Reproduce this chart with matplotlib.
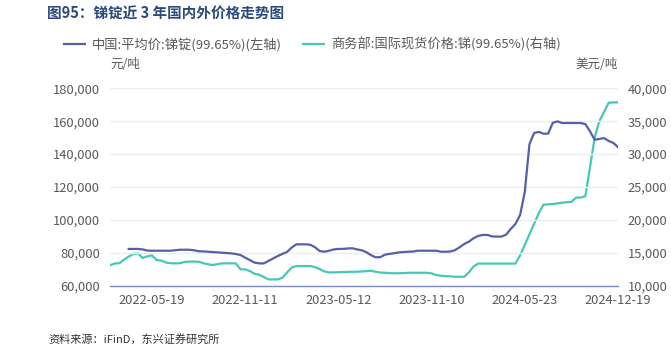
import numpy as np
import matplotlib
matplotlib.use("Agg")
from matplotlib import pyplot as plt

plt.rcParams['font.family'] = ['Noto Sans CJK SC', 'DejaVu Sans']

# 锑锭价格：国内（元/吨，左轴）、国际（美元/吨，右轴）
nan = np.nan
china_price = [nan, nan, nan, nan,
    82300, 82300, 82300, 82000, 81300, 81200, 81200, 81200, 81200, 81200,
    81500, 81800, 81800, 81800, 81500, 80900, 80800, 80600, 80400, 80200,
    80000, 79800, 79600, 79200, 78600, 77000, 75500, 74000, 73500, 73500,
    75000, 76500, 78000, 79300, 80500, 83200, 85100, 85100, 85100, 84800,
    83300, 81000, 80600, 81200, 82000, 82300, 82300, 82600, 82700, 82000,
    81500, 80300, 78500, 77200, 77300, 78800, 79300, 79700, 80200, 80400,
    80600, 80700, 81200, 81200, 81200, 81200, 81200, 80600, 80600, 80700,
    81500, 83300, 85300, 86700, 88800, 90200, 90800, 90800, 89900, 89800,
    89800, 91000, 94500, 97500, 103000, 117000, 146000, 152800, 153500, 152400,
    152400, 159000, 159900, 158900, 158900, 158900, 158900, 158900, 158200, 153800,
    148700, 149200, 149700, 148000, 146800, 144200]

intl_price = [
    13100, 13350, 13400, 13950, 14400, 14800, 14900, 14200, 14450, 14600,
    13880, 13800, 13500, 13400, 13380, 13400, 13600, 13650, 13650, 13630,
    13400, 13250, 13120, 13250, 13380, 13380, 13380, 13380, 12470, 12470,
    12200, 11800, 11650, 11300, 10940, 10940, 10940, 11200, 12000, 12750,
    12970, 12970, 12970, 12970, 12800, 12500, 12150, 12010, 12010, 12030,
    12050, 12080, 12100, 12100, 12150, 12200, 12260, 12100, 11980, 11950,
    11900, 11860, 11880, 11900, 11950, 11950, 11950, 11950, 11950, 11850,
    11600, 11500, 11450, 11400, 11350, 11340, 11340, 12000, 12900, 13350,
    13350, 13350, 13350, 13350, 13350, 13350, 13350, 13350, 14600, 16200,
    17800, 19400, 21000, 22300, 22350, 22400, 22500, 22600, 22680, 22720,
    23380, 23380, 23600, 28000, 32500, 35000, 36400, 37800, 37860, 37860]

tick_pos = [9, 29, 49, 69, 89, 109]
tick_labels = ['2022-05-19', '2022-11-11', '2023-05-12',
               '2023-11-10', '2024-05-23', '2024-12-19']

blue = '#5660A8'
green = '#45C8B6'
grey = '#595959'

fig = plt.figure(figsize=(6.71, 3.47), dpi=100)
ax1 = fig.add_axes([0.164, 0.177, 0.757, 0.5685])
ax2 = ax1.twinx()

idx = np.arange(len(intl_price))
l1, = ax1.plot(idx, china_price, color=blue, lw=1.6,
               label='中国:平均价:锑锭(99.65%)(左轴)', zorder=3)
l2, = ax2.plot(idx, intl_price, color=green, lw=1.6,
               label='商务部:国际现货价格:锑(99.65%)(右轴)', zorder=3)

ax1.set_xlim(0, len(idx) - 1)
ax1.set_ylim(60000, 180000)
ax1.set_yticks(np.arange(60000, 180001, 20000))
ax1.yaxis.set_major_formatter(matplotlib.ticker.StrMethodFormatter('{x:,.0f}'))
ax2.set_ylim(10000, 40000)
ax2.set_yticks(np.arange(10000, 40001, 5000))
ax2.yaxis.set_major_formatter(matplotlib.ticker.StrMethodFormatter('{x:,.0f}'))

ax1.set_xticks(tick_pos)
ax1.set_xticklabels(tick_labels)

ax1.grid(axis='y', color='#ECECF4', lw=1.0)
ax1.set_axisbelow(True)
for a in (ax1, ax2):
    for s in a.spines.values():
        s.set_visible(False)
    a.tick_params(length=0, labelsize=9.3, labelcolor=grey)
ax1.spines['bottom'].set_visible(True)
ax1.spines['bottom'].set_color('#7F8BC4')
ax1.spines['bottom'].set_linewidth(1.0)
ax1.tick_params(axis='y', pad=7)
ax2.tick_params(axis='y', pad=7)
ax1.tick_params(axis='x', pad=6)
ax1.set_zorder(ax2.get_zorder() + 1)
ax1.patch.set_visible(False)

fig.text(0.070, 0.985, '图95：锑锭近 3 年国内外价格走势图', fontsize=10.5,
         fontweight='bold', color='#2A4A7C', va='top', ha='left')

fig.legend(handles=[l1, l2], loc='center left', bbox_to_anchor=(0.078, 0.873),
           ncol=2, frameon=False, fontsize=9.5, handlelength=1.6,
           handletextpad=0.5, columnspacing=1.6, labelcolor=grey)

fig.text(0.164, 0.815, '元/吨', fontsize=9, color=grey, ha='left', va='center')
fig.text(0.921, 0.815, '美元/吨', fontsize=9, color=grey, ha='right', va='center')

fig.text(0.072, 0.005, '资料来源：iFinD，东兴证券研究所', fontsize=8,
         color='#333333', style='italic', ha='left', va='bottom')

plt.savefig('out.png', dpi=100)
